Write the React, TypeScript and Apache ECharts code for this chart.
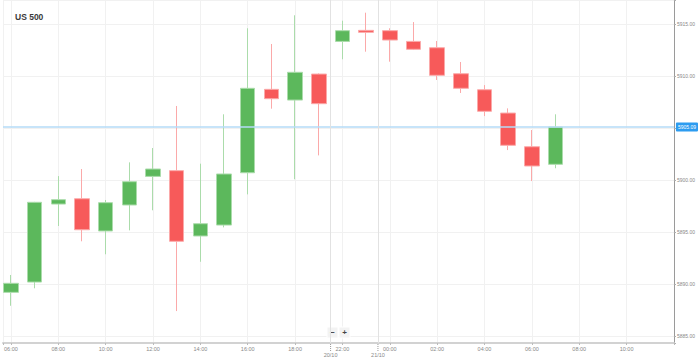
import React, { useEffect, useRef } from "react";
import * as echarts from "echarts";

// Hour labels for each slot on the (compressed) hourly axis
const hourLabels = [
  "06:00", "07:00", "08:00", "09:00", "10:00", "11:00", "12:00", "13:00", "14:00",
  "15:00", "16:00", "17:00", "18:00", "19:00", "22:00", "23:00", "00:00", "01:00",
  "02:00", "03:00", "04:00", "05:00", "06:00", "07:00", "08:00", "09:00", "10:00",
  "11:00", "12:00",
];

// OHLC values per candle (index = slot in hourLabels)
const opens = [
  5889.2, 5890.19, 5897.69, 5898.2, 5895.1, 5897.6, 5900.35, 5900.9, 5894.62, 5895.67,
  5900.7, 5908.72, 5907.69, 5910.19, 5913.33, 5914.39, 5914.36, 5913.33, 5912.72, 5910.22,
  5908.68, 5906.44, 5903.2, 5901.51,
];
const closes = [
  5890.07, 5897.86, 5898.11, 5895.22, 5897.82, 5899.84, 5901.06, 5894.11, 5895.8, 5900.58,
  5908.82, 5907.82, 5910.36, 5907.34, 5914.36, 5914.2, 5913.46, 5912.57, 5910.07, 5908.82,
  5906.61, 5903.34, 5901.35, 5905.09,
];
const lows = [
  5887.91, 5889.59, 5895.58, 5894.11, 5892.86, 5895.16, 5897.09, 5887.4, 5892.14, 5895.45,
  5898.62, 5906.86, 5900.07, 5902.37, 5911.61, 5912.34, 5911.38, 5912.5, 5909.62, 5908.37,
  5906.15, 5902.88, 5899.9, 5901.13,
];
const highs = [
  5890.87, 5897.9, 5900.38, 5901.06, 5898.08, 5901.7, 5903.08, 5907.12, 5901.57, 5906.32,
  5914.59, 5913.08, 5915.84, 5910.25, 5915.32, 5916.09, 5914.59, 5915.19, 5913.37, 5911.35,
  5909.13, 5906.89, 5904.81, 5906.32,
];

const lastPrice = 5905.09;
const dateBreaks = [
  { pos: 13.5, label: "20/10" },
  { pos: 15.5, label: "21/10" },
];

const Y_MIN = 5884.33;
const Y_MAX = 5917.31;
const X_MIN = -0.335;
const X_MAX = 28;

export default function App() {
  const ref = useRef<HTMLDivElement>(null);

  useEffect(() => {
    if (!ref.current) return;
    const chart = echarts.init(ref.current, null, { renderer: "svg" });
    const data = opens.map((o, i) => [i, o, closes[i], lows[i], highs[i]]);
    const font = "'Liberation Sans', Arial, sans-serif";

    chart.setOption({
      animation: false,
      textStyle: { fontFamily: font },
      title: {
        text: "US 500",
        left: 10,
        top: 7,
        textStyle: { fontSize: 8.5, fontWeight: "bold", color: "#3a3a3a", fontFamily: font },
      },
      grid: { left: 0, right: 22, top: 0, bottom: 17, containLabel: false },
      xAxis: {
        type: "value",
        min: X_MIN,
        max: X_MAX,
        minInterval: 2,
        maxInterval: 2,
        axisLine: { show: true, onZero: false, lineStyle: { color: "#d2d2d2", width: 2 } },
        axisTick: { show: true, length: 2, lineStyle: { color: "#bbb" } },
        axisLabel: {
          fontSize: 5.5,
          color: "#888",
          margin: 3,
          formatter: (v: number) => {
            if (Math.abs(v - Math.round(v)) > 1e-6) return "";
            const i = Math.round(v);
            if (i >= X_MAX) return "";
            return hourLabels[i] ?? "";
          },
        },
        splitLine: { show: true, lineStyle: { color: "#f1f1f1", width: 1 } },
      },
      yAxis: {
        type: "value",
        position: "right",
        min: Y_MIN,
        max: Y_MAX,
        minInterval: 5,
        maxInterval: 5,
        axisLine: { show: true, onZero: false, lineStyle: { color: "#9a9a9a", width: 1 } },
        axisTick: { show: true, length: 2, lineStyle: { color: "#aaa" } },
        axisLabel: {
          fontSize: 5,
          color: "#888",
          margin: 3,
          formatter: (v: number) =>
            Math.abs(v / 5 - Math.round(v / 5)) < 1e-6 ? v.toFixed(2) : "",
        },
        splitLine: { show: true, lineStyle: { color: "#f1f1f1", width: 1 } },
      },
      series: [
        {
          type: "candlestick",
          data,
          encode: { x: 0, y: [1, 2, 3, 4] },
          barWidth: 15,
          itemStyle: {
            color: "#5cb85c",
            color0: "#f75a5a",
            borderColor: "#abdcab",
            borderColor0: "#fba9a9",
            borderWidth: 1,
          },
          markLine: {
            silent: true,
            symbol: ["none", "none"],
            data: [
              {
                yAxis: lastPrice,
                lineStyle: { color: "#b5dbf7", width: 1.5, type: "solid" },
                label: {
                  show: true,
                  position: "end",
                  formatter: lastPrice.toFixed(2),
                  backgroundColor: "#2d9cf0",
                  color: "#fff",
                  fontSize: 5,
                  padding: [2, 2],
                  borderRadius: 1,
                  distance: 2,
                },
              },
              ...dateBreaks.map((d) => ({
                xAxis: d.pos,
                lineStyle: { color: "#e2e2e2", width: 1, type: "solid" },
                label: {
                  show: true,
                  position: "start",
                  formatter: d.label,
                  color: "#888",
                  fontSize: 5.5,
                  distance: 9,
                },
              })),
            ],
          },
        },
      ],
    });

    const g: any[] = [];
    dateBreaks.forEach((d) => {
      const px = chart.convertToPixel({ xAxisIndex: 0 }, d.pos) as number;
      g.push({
        type: "line",
        shape: { x1: px, y1: 344, x2: px, y2: 351 },
        style: { stroke: "#999", lineWidth: 1, lineDash: [1, 1] },
        silent: true,
      });
    });
    // zoom buttons
    [
      { x: 327, t: "−" },
      { x: 339, t: "+" },
    ].forEach((b) => {
      g.push({
        type: "rect",
        shape: { x: b.x, y: 327, width: 11, height: 11, r: 1 },
        style: { fill: "#f3f3f3", stroke: "#fff", lineWidth: 1 },
        silent: true,
      });
      g.push({
        type: "text",
        x: b.x + 5.5,
        y: 332.5,
        style: {
          text: b.t,
          fill: "#444",
          fontSize: 8,
          fontWeight: "bold",
          align: "center",
          verticalAlign: "middle",
          fontFamily: font,
        },
        silent: true,
      });
    });
    chart.setOption({ graphic: g });

    return () => chart.dispose();
  }, []);

  return (
    <div
      ref={ref}
      style={{ position: "fixed", left: 0, top: 0, width: 698, height: 360, background: "#fff" }}
    />
  );
}
